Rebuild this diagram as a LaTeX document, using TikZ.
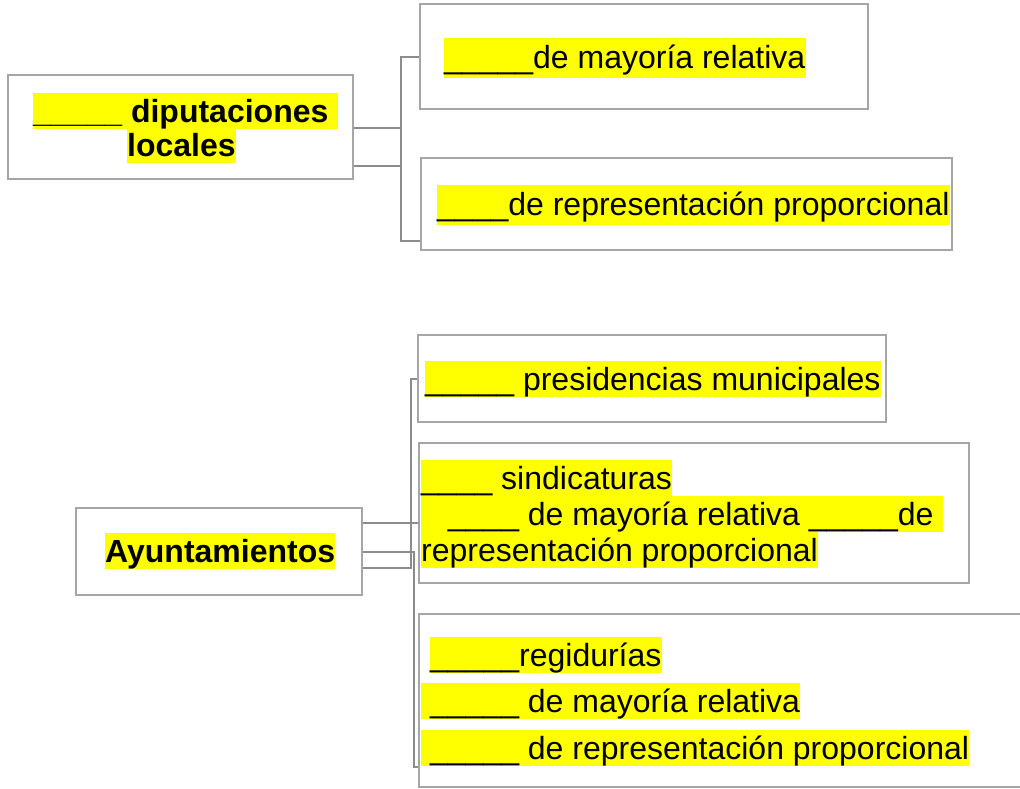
\documentclass[tikz,border=0pt]{standalone}
\usepackage{fontspec}
\setmainfont{Liberation Sans}
\definecolor{boxgray}{HTML}{A6A6A6}
\definecolor{conngray}{HTML}{8C8C8C}
\definecolor{hlyellow}{HTML}{FFFF00}
\pgfdeclarelayer{bg}
\pgfsetlayers{bg,main}
\begin{document}
\begin{tikzpicture}[x=1pt,y=-1pt,
  box/.style={draw=boxgray, line width=2.6pt, inner sep=0pt},
  conn/.style={draw=conngray, line width=2.6pt},
  hl/.style={inner sep=0pt, anchor=base west, text height=29pt, text depth=7pt, font=\fontsize{32}{38}\selectfont},
  hlb/.style={hl, font=\fontsize{32}{38}\selectfont\bfseries},
  hlt/.style={hl, text height=30pt, text depth=10pt}]
\useasboundingbox (0,0) rectangle (1020,788);
\clip (0,0) rectangle (1020,788);

% boxes
\node[box, minimum width=345pt, minimum height=104pt] (A) at (180.5,127) {};
\node[box, minimum width=448pt, minimum height=105pt] (B1) at (644,56.5) {};
\node[box, minimum width=531pt, minimum height=92pt] (B2) at (686.5,204) {};
\node[box, minimum width=286pt, minimum height=87pt] (D) at (219,551.5) {};
\node[box, minimum width=468pt, minimum height=87pt] (C1) at (652,378.5) {};
\node[box, minimum width=550pt, minimum height=140pt] (C2) at (694,513) {};
\node[box, minimum width=611pt, minimum height=173pt] (C3) at (724.5,700.5) {};

% texts
\node[hlb] (a1) at (33,122) {\_\_\_\_\_ diputaciones\kern.278em};
\node[hlb] (a2) at (127,156) {locales};
\node[hlt] (b1) at (444,68) {\_\_\_\_\_de mayoría relativa};
\node[hlt] (b2) at (437,215) {\_\_\_\_de representación proporcional};
\node[hlb] (d1) at (105,562) {Ayuntamientos};
\node[hl] (c1) at (425,390) {\_\_\_\_\_ presidencias municipales};
\node[hl] (c2a) at (421,489) {\_\_\_\_ sindicaturas};
\node[hl] (c2b) at (421,525) {\kern.834em\_\_\_\_ de mayoría relativa \_\_\_\_\_de\kern.278em};
\node[hl] (c2c) at (421,561) {representación proporcional};
\node[hl] (c3a) at (430,666) {\_\_\_\_\_regidurías};
\node[hl] (c3b) at (421,712) {\kern.278em\_\_\_\_\_ de mayoría relativa};
\node[hl] (c3c) at (421,759) {\kern.278em\_\_\_\_\_ de representación proporcional};

\begin{pgfonlayer}{bg}
  \foreach \n in {a1,a2,b1,b2,d1,c1,c2a,c2b,c2c,c3a,c3b,c3c}
    \fill[hlyellow] (\n.north west) rectangle (\n.south east);
\end{pgfonlayer}

% connectors, top group
\coordinate (t1) at (401,128);
\coordinate (t2) at (401,166);
\coordinate (tt) at (401,57);
\coordinate (tb) at (401,241);
\draw[conn] (A.east |- t1) -- (t1);
\draw[conn] (A.east |- t2) -- (t2);
\draw[conn] (B1.west |- tt) -- (tt) -- (tb) -- (B2.west |- tb);

% connectors, bottom group
\coordinate (u1) at (411,568);
\coordinate (u1t) at (411,379);
\coordinate (u2) at (411,523);
\coordinate (u3) at (414,552);
\coordinate (u3b) at (414,767);
\draw[conn] (D.east |- u1) -- (u1) -- (u1t) -- (C1.west |- u1t);
\draw[conn] (D.east |- u2) -- (C2.west |- u2);
\draw[conn] (D.east |- u3) -- (u3) -- (u3b) -- (C3.west |- u3b);
\end{tikzpicture}
\end{document}
